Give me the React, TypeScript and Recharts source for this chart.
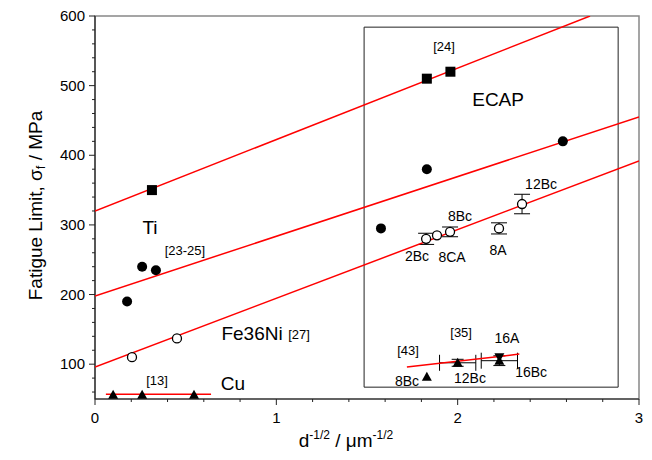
import React from 'react'
import {
  ComposedChart,
  Scatter,
  XAxis,
  YAxis,
  ErrorBar,
  ReferenceArea,
  ReferenceDot,
  Label,
} from 'recharts'

const FONT = '"Liberation Sans", Arial, Helvetica, sans-serif'

// axis ticks (major ones get labels)
const X_TICKS = [0, 0.2, 0.4, 0.6, 0.8, 1, 1.2, 1.4, 1.6, 1.8, 2, 2.2, 2.4, 2.6, 2.8, 3]
const X_MAJOR = [0, 1, 2, 3]
const Y_TICKS = [
  60, 80, 100, 120, 140, 160, 180, 200, 220, 240, 260, 280, 300, 320, 340, 360,
  380, 400, 420, 440, 460, 480, 500, 520, 540, 560, 580, 600,
]
const Y_MAJOR = [100, 200, 300, 400, 500, 600]

// Ti, ECAP squares [24]
const tiSquares = [
  { x: 0.314, y: 350 },
  { x: 1.83, y: 510 },
  { x: 1.96, y: 520 },
]
// Ti, filled circles [23-25]
const tiCircles = [
  { x: 0.177, y: 190 },
  { x: 0.26, y: 240 },
  { x: 0.336, y: 235 },
  { x: 1.577, y: 295 },
  { x: 1.83, y: 380 },
  { x: 2.58, y: 420 },
]
// Fe36Ni [27], open circles
const feCircles = [
  { x: 0.204, y: 110 },
  { x: 0.452, y: 137 },
  { x: 1.886, y: 285 },
]
const feCirclesErr = [
  { x: 1.826, y: 280, ey: 8 },
  { x: 1.958, y: 290, ey: 7 },
  { x: 2.228, y: 295, ey: 8 },
  { x: 2.355, y: 330, ey: 14 },
]
// Cu [13]
const cuTriangles = [
  { x: 0.1, y: 56 },
  { x: 0.26, y: 56 },
  { x: 0.546, y: 56 },
]
// Cu ECAP [43] [35]
const cuEcapUp = [{ x: 1.83, y: 82 }]
const cuEcapUpErr = [
  { x: 2.0, y: 102, ex: 0.1, ey: 5 },
  { x: 2.23, y: 105, ex: 0.1, ey: 7 },
]
const cuEcapDown = [{ x: 2.23, y: 110 }]

// fitted lines (end points)
const tiSquareLine = [
  { x: 0, y: 320 },
  { x: 2.73, y: 600 },
]
const tiCircleLine = [
  { x: 0, y: 198 },
  { x: 3, y: 455 },
]
const feLine = [
  { x: 0, y: 96 },
  { x: 3, y: 392 },
]
const cuLine = [
  { x: 0.06, y: 57 },
  { x: 0.64, y: 57 },
]
const cuEcapLine = [
  { x: 1.72, y: 96 },
  { x: 2.34, y: 114.5 },
]

// text annotations placed in data units
const notes = [
  { x: 1.925, y: 556, text: '[24]', size: 13 },
  { x: 2.223, y: 481, text: 'ECAP', size: 19 },
  { x: 0.303, y: 296, text: 'Ti', size: 19 },
  { x: 0.496, y: 264, text: '[23-25]', size: 13 },
  { x: 0.866, y: 145, text: 'Fe36Ni', size: 19 },
  { x: 1.125, y: 143, text: '[27]', size: 13 },
  { x: 0.342, y: 77, text: '[13]', size: 13 },
  { x: 0.761, y: 73, text: 'Cu', size: 19 },
  { x: 2.013, y: 313, text: '8Bc', size: 14 },
  { x: 1.776, y: 255, text: '2Bc', size: 14 },
  { x: 1.969, y: 254, text: '8CA', size: 14 },
  { x: 2.223, y: 264, text: '8A', size: 14 },
  { x: 2.46, y: 359, text: '12Bc', size: 14 },
  { x: 1.726, y: 120, text: '[43]', size: 13 },
  { x: 2.019, y: 145, text: '[35]', size: 13 },
  { x: 2.272, y: 138, text: '16A', size: 14 },
  { x: 1.721, y: 76, text: '8Bc', size: 14 },
  { x: 2.068, y: 80, text: '12Bc', size: 14 },
  { x: 2.405, y: 89, text: '16Bc', size: 14 },
]

const AXIS = '#222'
const RED = '#ff0000'

const Square = ({ cx, cy }: any) => (
  <rect x={cx - 5} y={cy - 5} width={10} height={10} fill="#000" />
)
const Filled = ({ cx, cy }: any) => <circle cx={cx} cy={cy} r={5} fill="#000" />
const Open = ({ cx, cy }: any) => (
  <circle cx={cx} cy={cy} r={4.5} fill="#fff" stroke="#000" strokeWidth={1.3} />
)
const TriUp = ({ cx, cy }: any) => (
  <polygon points={`${cx},${cy - 5} ${cx + 5},${cy + 4} ${cx - 5},${cy + 4}`} fill="#000" />
)
const TriDown = ({ cx, cy }: any) => (
  <polygon points={`${cx},${cy + 5} ${cx + 5},${cy - 4} ${cx - 5},${cy - 4}`} fill="#000" />
)
const NoShape = () => <g />

const XTick = ({ x, y, payload }: any) => {
  const major = X_MAJOR.includes(payload.value)
  return (
    <g>
      <line x1={x} x2={x} y1={y} y2={y + (major ? 6 : 3)} stroke={AXIS} />
      {major && (
        <text x={x} y={y + 24} textAnchor="middle" fontSize={15} fill="#000">
          {payload.value}
        </text>
      )}
    </g>
  )
}

const YTick = ({ x, y, payload }: any) => {
  const major = Y_MAJOR.includes(payload.value)
  return (
    <g>
      <line x1={x} x2={x - (major ? 6 : 3)} y1={y} y2={y} stroke={AXIS} />
      {major && (
        <text x={x - 10} y={y + 5} textAnchor="end" fontSize={15} fill="#000">
          {payload.value}
        </text>
      )}
    </g>
  )
}

const YTitle = ({ viewBox }: any) => {
  const cx = viewBox.x + 37
  const cy = viewBox.y + viewBox.height / 2 - 2
  return (
    <text
      x={cx}
      y={cy}
      transform={`rotate(-90, ${cx}, ${cy})`}
      textAnchor="middle"
      dominantBaseline="middle"
      fontSize={19}
      fill="#000"
      stroke="none"
    >
      Fatigue Limit, σ
      <tspan dy={5} fontSize={13}>f</tspan>
      <tspan dy={-5}> / MPa</tspan>
    </text>
  )
}

const XTitle = ({ viewBox }: any) => {
  const cx = viewBox.x + viewBox.width / 2 - 21
  const cy = viewBox.y + 48
  return (
    <text x={cx} y={cy} textAnchor="middle" fontSize={19} fill="#000" stroke="none">
      d<tspan dy={-8} fontSize={12}>-1/2</tspan>
      <tspan dy={8}> / μm</tspan>
      <tspan dy={-8} fontSize={12}>-1/2</tspan>
    </text>
  )
}

export default function App() {
  return (
    <div style={{ position: 'absolute', left: 0, top: 0, background: '#fff', fontFamily: FONT }}>
      <ComposedChart
        width={652}
        height={460}
        margin={{ top: 16, right: 13, bottom: 0, left: 0 }}
        style={{ fontFamily: FONT }}
      >
        <XAxis
          type="number"
          dataKey="x"
          domain={[0, 3]}
          ticks={X_TICKS}
          interval={0}
          allowDataOverflow
          height={61}
          tickSize={0}
          tickMargin={0}
          tickLine={false}
          axisLine={{ stroke: AXIS, strokeWidth: 1.2 }}
          tick={<XTick />}
          label={<Label content={<XTitle />} />}
        />
        <YAxis
          type="number"
          dataKey="y"
          domain={[50, 600]}
          ticks={Y_TICKS}
          interval={0}
          allowDataOverflow
          width={95}
          tickSize={0}
          tickMargin={0}
          tickLine={false}
          axisLine={{ stroke: AXIS, strokeWidth: 1.2 }}
          tick={<YTick />}
          label={<Label content={<YTitle />} />}
        />
        <ReferenceArea x1={0} x2={3} y1={50} y2={600} fill="none" stroke="#888" strokeWidth={1.5} />
        <ReferenceArea x1={1.484} x2={2.885} y1={67} y2={584} fill="none" stroke={AXIS} strokeWidth={1} />

        <Scatter data={tiSquareLine} line={{ stroke: RED, strokeWidth: 1.5 }} shape={<NoShape />} isAnimationActive={false} />
        <Scatter data={tiCircleLine} line={{ stroke: RED, strokeWidth: 1.5 }} shape={<NoShape />} isAnimationActive={false} />
        <Scatter data={feLine} line={{ stroke: RED, strokeWidth: 1.5 }} shape={<NoShape />} isAnimationActive={false} />
        <Scatter data={cuLine} line={{ stroke: RED, strokeWidth: 1.5 }} shape={<NoShape />} isAnimationActive={false} />
        <Scatter data={cuEcapLine} line={{ stroke: RED, strokeWidth: 1.5 }} shape={<NoShape />} isAnimationActive={false} />

        <Scatter data={tiSquares} shape={<Square />} isAnimationActive={false} />
        <Scatter data={tiCircles} shape={<Filled />} isAnimationActive={false} />
        <Scatter data={feCirclesErr} shape={<Open />} isAnimationActive={false}>
          <ErrorBar dataKey="ey" direction="y" width={8} stroke="#000" strokeWidth={1} />
        </Scatter>
        <Scatter data={feCircles} shape={<Open />} isAnimationActive={false} />
        <Scatter data={cuTriangles} shape={<TriUp />} isAnimationActive={false} />
        <Scatter data={cuEcapUp} shape={<TriUp />} isAnimationActive={false} />
        <Scatter data={cuEcapUpErr} shape={<TriUp />} isAnimationActive={false}>
          <ErrorBar dataKey="ex" direction="x" width={8} stroke="#000" strokeWidth={1} />
          <ErrorBar dataKey="ey" direction="y" width={6} stroke="#000" strokeWidth={1} />
        </Scatter>
        <Scatter data={cuEcapDown} shape={<TriDown />} isAnimationActive={false} />

        {notes.map((n, i) => (
          <ReferenceDot
            key={i}
            x={n.x}
            y={n.y}
            r={0}
            fill="none"
            stroke="none"
            label={{ value: n.text, position: 'center', fontSize: n.size, fill: '#000', fontFamily: FONT }}
          />
        ))}
      </ComposedChart>
    </div>
  )
}
